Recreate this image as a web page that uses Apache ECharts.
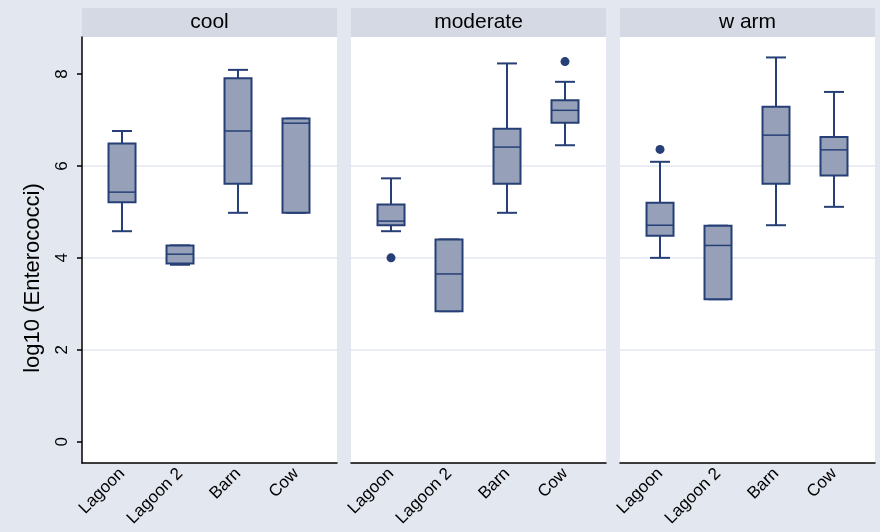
<!DOCTYPE html>
<html><head><meta charset="utf-8">
<script src="https://cdn.jsdelivr.net/npm/echarts@6/dist/echarts.min.js"></script>
<style>html,body{margin:0;padding:0;background:#e3e7f0}#c{width:880px;height:532px}</style>
</head><body><div id="c"></div><script>
// ---- data ----
const categories = ['Lagoon', 'Lagoon 2', 'Barn', 'Cow'];
const panelTitles = ['cool', 'moderate', 'w arm'];
const yTicks = [0, 2, 4, 6, 8];
const yTitle = 'log10 (Enterococci)';
// [low whisker, q1, median, q3, high whisker] per category
const coolBoxes = [
  [4.58, 5.21, 5.43, 6.49, 6.76],
  [3.85, 3.88, 4.08, 4.27, 4.27],
  [4.98, 5.61, 6.76, 7.91, 8.09],
  [4.98, 4.98, 6.93, 7.03, 7.03]
];
const moderateBoxes = [
  [4.58, 4.71, 4.80, 5.16, 5.73],
  [2.84, 2.84, 3.65, 4.40, 4.40],
  [4.98, 5.61, 6.41, 6.81, 8.23],
  [6.45, 6.94, 7.21, 7.43, 7.83]
];
const warmBoxes = [
  [4.00, 4.48, 4.71, 5.20, 6.09],
  [3.10, 3.10, 4.27, 4.70, 4.70],
  [4.71, 5.61, 6.67, 7.29, 8.36],
  [5.11, 5.79, 6.35, 6.63, 7.61]
];
// outliers: [category, value]
const coolOutliers = [];
const moderateOutliers = [['Lagoon', 4.00], ['Cow', 8.27]];
const warmOutliers = [['Lagoon', 6.36]];

// ---- style / layout ----
const BG = '#e3e7f0', HEADER = '#d4d9e4', FILL = '#96a1b9', LINE = '#263f76', GRIDC = '#e3e7f0';
const panelLeft = [82, 351, 620];
const panelWidth = 255;
const gridTop = 37, gridHeight = 426;
const FONT = '"Liberation Sans", Arial, sans-serif';

const panelBoxes = [coolBoxes, moderateBoxes, warmBoxes];
const panelOutliers = [coolOutliers, moderateOutliers, warmOutliers];

function renderBox(params, api) {
  const x = api.value(0);
  const lo = api.coord([x, api.value(1)]);
  const q1 = api.coord([x, api.value(2)]);
  const md = api.coord([x, api.value(3)]);
  const q3 = api.coord([x, api.value(4)]);
  const hi = api.coord([x, api.value(5)]);
  const cx = lo[0], bw = 27, cw = 20;
  const ls = { stroke: LINE, lineWidth: 2, fill: null };
  return { type: 'group', children: [
    { type: 'line', shape: { x1: cx, y1: hi[1], x2: cx, y2: q3[1] }, style: ls },
    { type: 'line', shape: { x1: cx, y1: q1[1], x2: cx, y2: lo[1] }, style: ls },
    { type: 'line', shape: { x1: cx - cw / 2, y1: hi[1], x2: cx + cw / 2, y2: hi[1] }, style: ls },
    { type: 'line', shape: { x1: cx - cw / 2, y1: lo[1], x2: cx + cw / 2, y2: lo[1] }, style: ls },
    { type: 'rect', shape: { x: cx - bw / 2, y: q3[1], width: bw, height: q1[1] - q3[1] },
      style: { fill: FILL, stroke: LINE, lineWidth: 2 } },
    { type: 'line', shape: { x1: cx - bw / 2, y1: md[1], x2: cx + bw / 2, y2: md[1] },
      style: { stroke: LINE, lineWidth: 1.5 } }
  ]};
}

const grids = [], xAxes = [], yAxes = [], series = [], graphics = [];
panelTitles.forEach((t, i) => {
  grids.push({ left: panelLeft[i], width: panelWidth, top: gridTop, height: gridHeight,
    show: true, backgroundColor: '#fff', borderWidth: 0 });
  xAxes.push({
    type: 'value', gridIndex: i, min: 0.31, max: 4.707,
    axisLine: { show: true, onZero: false, lineStyle: { color: '#000', width: 1.5 } },
    axisTick: { show: false },
    splitLine: { show: false },
    axisLabel: {
      customValues: [1, 2, 3, 4], rotate: 45, margin: 8, fontSize: 17, color: '#000', fontFamily: FONT,
      formatter: v => categories[Math.round(v) - 1] || ''
    }
  });
  yAxes.push({
    type: 'value', gridIndex: i, min: -0.463, max: 8.805,
    name: i === 0 ? yTitle : '', nameLocation: 'middle', nameGap: 38,
    nameTextStyle: { fontSize: 22, color: '#000', fontFamily: FONT, padding: [0, 56, 0, 0] },
    axisLine: { show: i === 0, lineStyle: { color: '#000', width: 1.5 } },
    axisTick: { show: i === 0, customValues: yTicks, length: 5, lineStyle: { color: '#000', width: 1.5 } },
    axisLabel: { show: i === 0, customValues: yTicks, rotate: 90, margin: 11, fontSize: 17, color: '#000', fontFamily: FONT },
    splitLine: { show: true, showMinLine: false, showMaxLine: false, lineStyle: { color: GRIDC, width: 1.5 } }
  });
  series.push({
    type: 'custom', xAxisIndex: i, yAxisIndex: i,
    renderItem: renderBox,
    encode: { x: 0, y: [1, 2, 3, 4, 5] },
    data: panelBoxes[i].map((b, k) => [k + 1].concat(b)),
    z: 3
  });
  series.push({
    type: 'scatter', xAxisIndex: i, yAxisIndex: i,
    symbol: 'circle', symbolSize: 9, itemStyle: { color: LINE, opacity: 1 },
    data: panelOutliers[i].map(o => [categories.indexOf(o[0]) + 1, o[1]]),
    z: 4
  });
  graphics.push({ type: 'rect', left: panelLeft[i], top: 8, shape: { width: panelWidth, height: 29 },
    style: { fill: HEADER } });
  graphics.push({ type: 'text', x: panelLeft[i] + panelWidth / 2, y: 22.5,
    style: { text: t, fill: '#000', font: '21px ' + FONT, textAlign: 'center', textVerticalAlign: 'middle' } });
});

const chart = echarts.init(document.getElementById('c'), null, { renderer: 'canvas' });
chart.setOption({
  backgroundColor: BG,
  animation: false,
  grid: grids, xAxis: xAxes, yAxis: yAxes, series: series, graphic: graphics
});
</script></body></html>
